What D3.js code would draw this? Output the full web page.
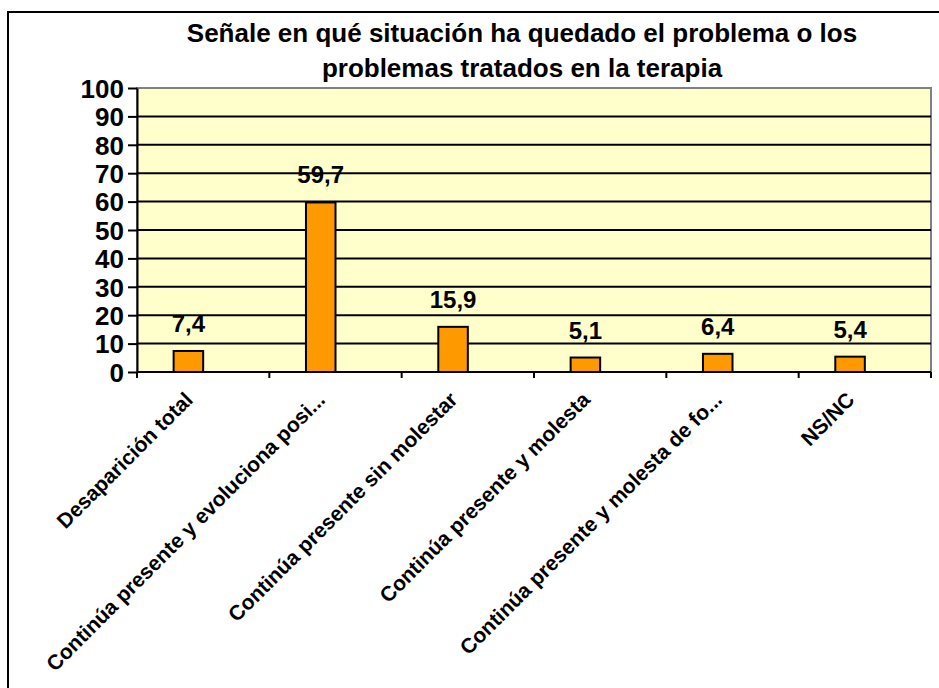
<!DOCTYPE html>
<meta charset="utf-8">
<style>
body { margin: 0; background: #fff; }
svg { display: block; font-family: "Liberation Sans", Arial, sans-serif; font-weight: bold; }
.grid line { stroke: #000; stroke-width: 2px; }
.axis path, .axis line { stroke: #000; stroke-width: 2px; fill: none; }
</style>
<body>
<div id="chart"></div>
<script src="https://cdn.jsdelivr.net/npm/d3@7"></script>
<script>
var titleLines = ["Señale en qué situación ha quedado el problema o los", "problemas tratados en la terapia"];
var categories = ["Desaparición total", "Continúa presente y evoluciona posi...", "Continúa presente sin molestar",
                  "Continúa presente y molesta", "Continúa presente y molesta de fo...", "NS/NC"];
var values = [7.4, 59.7, 15.9, 5.1, 6.4, 5.4];
var valueLabels = ["7,4", "59,7", "15,9", "5,1", "6,4", "5,4"];
var yTicks = [0, 10, 20, 30, 40, 50, 60, 70, 80, 90, 100];

var W = 939, H = 688;
var margin = { top: 88, right: 8, bottom: 316, left: 137 };
var width = W - margin.left - margin.right,
    height = H - margin.top - margin.bottom;

var svg = d3.select("#chart").append("svg").attr("width", W).attr("height", H);

// outer frame
svg.append("rect").attr("x", 8).attr("y", 12).attr("width", W).attr("height", H)
    .attr("fill", "none").attr("stroke", "#000").attr("stroke-width", 2);

svg.selectAll(".title").data(titleLines).enter().append("text")
    .attr("x", 522).attr("y", function(d, i) { return 42 + i * 35; })
    .attr("text-anchor", "middle").attr("font-size", "26px").text(function(d) { return d; });

var g = svg.append("g").attr("transform", "translate(" + margin.left + "," + margin.top + ")");

var x = d3.scaleBand().domain(categories).range([0, width]);
var y = d3.scaleLinear().domain([0, 100]).range([height, 0]);

g.append("rect").attr("width", width).attr("height", height)
    .attr("fill", "#FFFFCC").attr("stroke", "#808080").attr("stroke-width", 2);

g.append("g").attr("class", "grid").selectAll("line").data(yTicks.slice(1, -1)).enter().append("line")
    .attr("x1", 0).attr("x2", width).attr("y1", function(d) { return y(d); }).attr("y2", function(d) { return y(d); });

// Excel-style clustered layout: bar sits left of band centre
var barW = x.bandwidth() / 4.48;
var barOff = barW * 1.24;

g.selectAll(".bar").data(values).enter().append("rect")
    .attr("x", function(d, i) { return x(categories[i]) + barOff; })
    .attr("y", function(d) { return y(d); })
    .attr("width", barW)
    .attr("height", function(d) { return height - y(d); })
    .attr("fill", "#FF9900").attr("stroke", "#000").attr("stroke-width", 2);

g.selectAll(".val").data(values).enter().append("text")
    .attr("x", function(d, i) { return x(categories[i]) + barOff + barW / 2; })
    .attr("y", function(d) { return y(d) - 19; })
    .attr("text-anchor", "middle").attr("font-size", "24px")
    .text(function(d, i) { return valueLabels[i]; });

// y axis
var yAxis = g.append("g").attr("class", "axis")
    .call(d3.axisLeft(y).tickValues(yTicks).tickSize(9).tickSizeOuter(0).tickPadding(4));
yAxis.selectAll("text").attr("font-size", "26px").attr("font-family", "inherit").attr("font-weight", "bold")
    .attr("fill", "#000").attr("dy", "0.36em");

// x axis: ticks at band boundaries
var xAxis = g.append("g").attr("class", "axis").attr("transform", "translate(0," + height + ")");
xAxis.append("line").attr("x1", 0).attr("x2", width).attr("y1", 0).attr("y2", 0);
xAxis.selectAll(".tk").data(d3.range(categories.length + 1)).enter().append("line")
    .attr("x1", function(i) { return i * x.step(); }).attr("x2", function(i) { return i * x.step(); })
    .attr("y1", 0).attr("y2", 6);
xAxis.selectAll(".lbl").data(categories).enter().append("text")
    .attr("transform", function(d) { return "translate(" + (x(d) + x.bandwidth() / 2 - 9) + ",29) rotate(-45)"; })
    .attr("text-anchor", "end").attr("font-size", "21px").attr("fill", "#000")
    .text(function(d) { return d; });
</script>
</body>
